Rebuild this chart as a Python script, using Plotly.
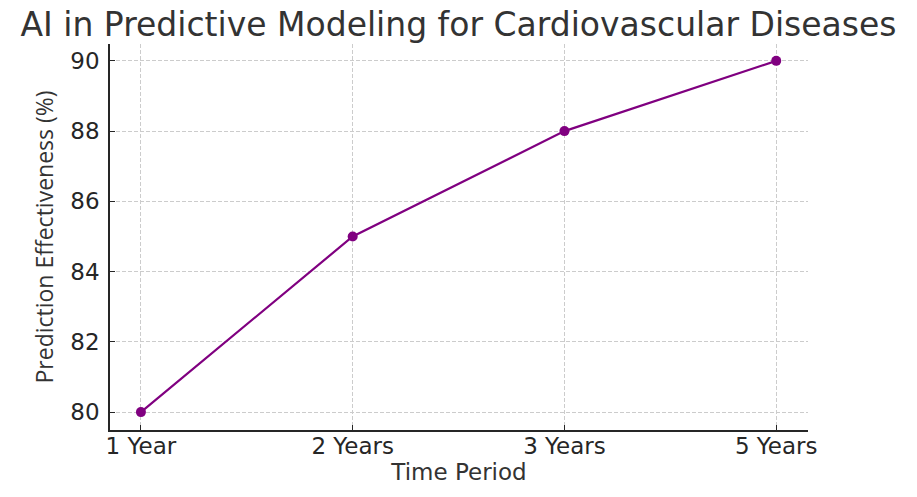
import plotly.graph_objects as go

categories = ["1 Year", "2 Years", "3 Years", "5 Years"]
effectiveness = [80, 85, 88, 90]
y_ticks = [80, 82, 84, 86, 88, 90]

fig = go.Figure()
fig.add_trace(go.Scatter(
    x=list(range(len(categories))), y=effectiveness,
    mode="lines+markers",
    line=dict(color="purple", width=2.2),
    marker=dict(color="purple", size=10),
))

fig.update_layout(
    width=917, height=497,
    margin=dict(l=110, r=109, t=44, b=67),
    paper_bgcolor="white", plot_bgcolor="white",
    showlegend=False,
    title=dict(text="AI in Predictive Modeling for Cardiovascular Diseases",
               x=0.5, xanchor="center", y=1 - 24 / 497, yanchor="middle",
               font=dict(family="DejaVu Sans", size=33, color="#333333")),
    font=dict(family="DejaVu Sans", color="#262626"),
)
fig.update_xaxes(
    range=[-0.146, 3.15],
    tickmode="array", tickvals=list(range(len(categories))), ticktext=categories,
    tickfont=dict(size=23, color="#262626"),
    ticks="inside", ticklen=5, tickcolor="#262626", tickwidth=1.2,
    ticklabelstandoff=-5,
    showline=True, linecolor="#262626", linewidth=1.5, mirror=False,
    showgrid=True, gridcolor="#cccccc", griddash="4px,2px", gridwidth=1,
    zeroline=False,
    title=dict(text="Time Period", font=dict(size=23, color="#333333"), standoff=0),
)
fig.update_yaxes(
    range=[79.49, 90.48],
    tickmode="array", tickvals=y_ticks,
    tickfont=dict(size=23, color="#262626"),
    ticks="inside", ticklen=5, tickcolor="#262626", tickwidth=1.2,
    ticklabelstandoff=4,
    showline=True, linecolor="#262626", linewidth=1.5, mirror=False,
    showgrid=True, gridcolor="#cccccc", griddash="4px,2px", gridwidth=1,
    zeroline=False,
    title=dict(text="Prediction Effectiveness (%)",
               font=dict(family="Open Sans", size=23, color="#333333"), standoff=10),
)

fig.write_html("out.html")
